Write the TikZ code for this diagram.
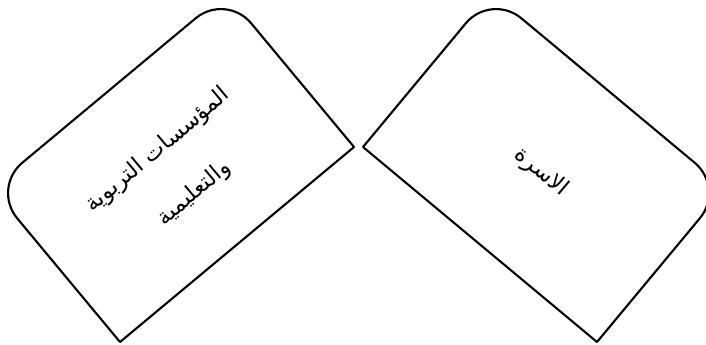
\documentclass[tikz,border=0pt]{standalone}
\usepackage{fontspec}
\newfontfamily\arabicfont[Script=Arabic]{DejaVu Sans}
\TeXXeTstate=1
\usetikzlibrary{positioning}
\tikzset{
  card/.style={draw=black,line width=1.5pt,line join=round},
  cardtext/.style={font=\arabicfont\fontsize{16}{40}\selectfont,align=center,inner sep=0pt}
}

\begin{document}
\begin{tikzpicture}[x=0.025cm,y=0.025cm]
\useasboundingbox (0,0) rectangle (706,344);
% left card
\draw[card] (120,2) -- (354,197) [rounded corners=28] -- (226,351) -- (-8,156) [sharp corners] -- cycle;
\node[cardtext,rotate=40] (inst) at (176,172) {\beginR المؤسسات التربوية\endR\\\beginR والتعليمية\endR};
% right card
\draw[card] (363,197) -- (597,2) [rounded corners=28] -- (725,156) -- (491,351) [sharp corners] -- cycle;
\node[cardtext,rotate=-40] (family) at (541,172) {\beginR الاسرة\endR};
\end{tikzpicture}
\end{document}
